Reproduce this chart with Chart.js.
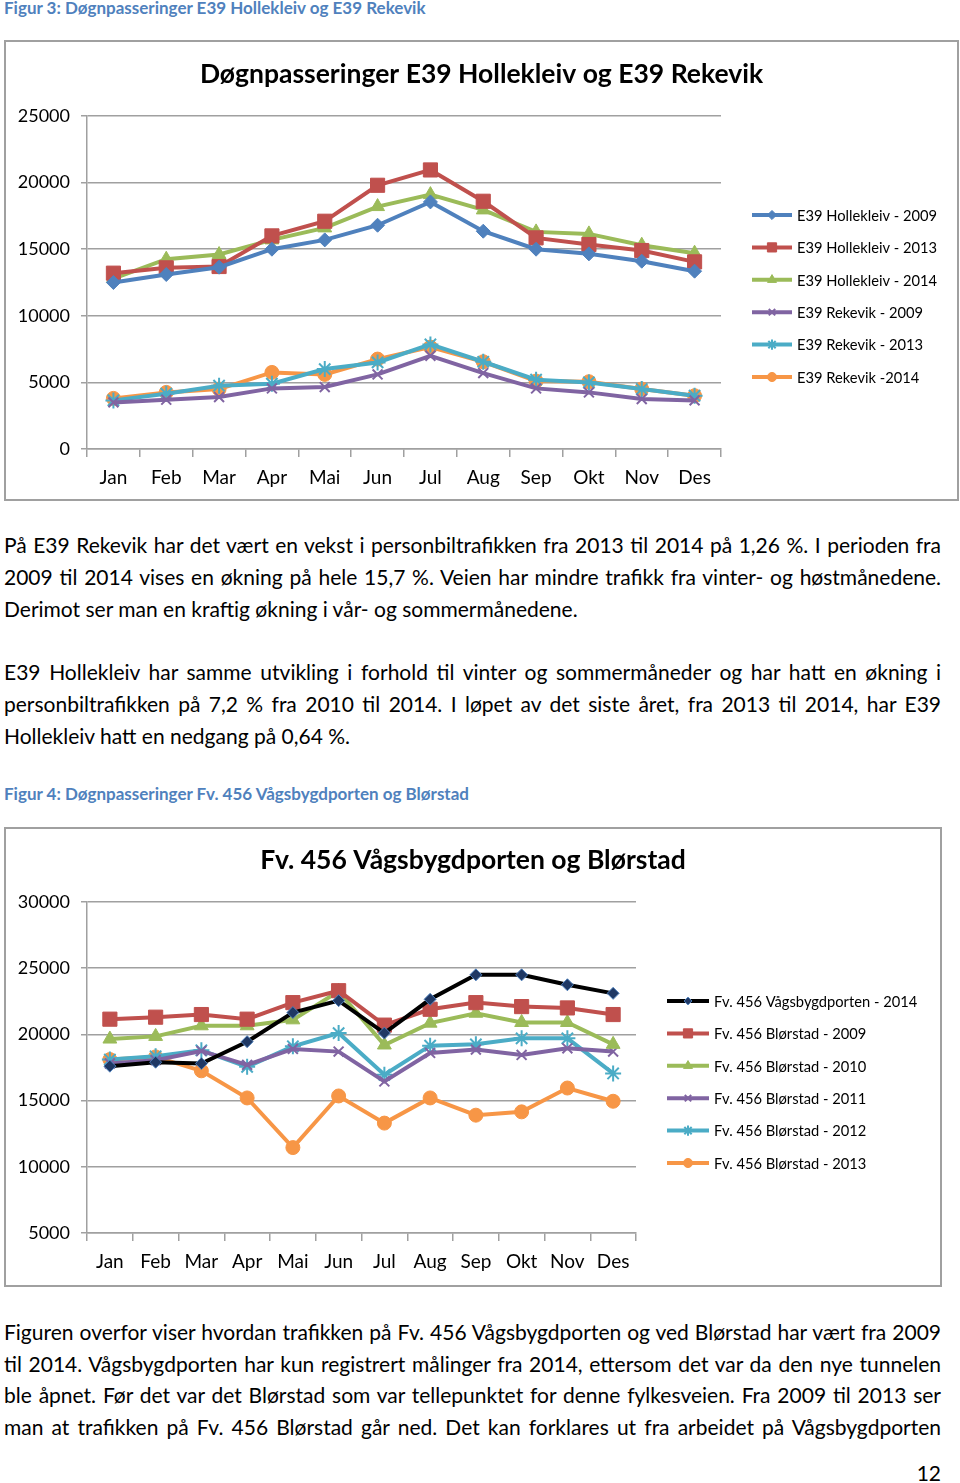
<!DOCTYPE html>
<html>
<head>
<meta charset="utf-8">
<script src="https://cdn.jsdelivr.net/npm/chart.js@4.4.1/dist/chart.umd.min.js"></script>
<style>
  body { margin:0; width:960px; height:1483px; background:#fff; position:relative; overflow:hidden; font-family: Lato, 'Open Sans', sans-serif; color:#000; }
  .cap { position:absolute; left:4px; font-weight:bold; color:#4f81bd; font-size:17px; line-height:20px; white-space:nowrap; }
  .box { position:absolute; border:2px solid #a0a0a0; box-sizing:border-box; background:#fff; }
  .box canvas { position:absolute; left:0; top:0; }
  .line { position:absolute; left:4px; width:937px; font-size:21px; line-height:32px; text-align:justify; text-align-last:justify; white-space:nowrap; }
  .line.end { text-align-last:left; }
  .pg { position:absolute; right:19px; top:1457px; font-size:21px; line-height:32px; }
</style>
</head>
<body>
<div class="cap" style="top:-2px">Figur 3: Døgnpasseringer E39 Hollekleiv og E39 Rekevik</div>
<div class="box" style="left:4px; top:40px; width:955px; height:461px;"><canvas id="chart1" width="951" height="457"></canvas></div>

<div class="line" style="top:529px">På E39 Rekevik har det vært en vekst i personbiltrafikken fra 2013 til 2014 på 1,26 %. I perioden fra</div>
<div class="line" style="top:561px">2009 til 2014 vises en økning på hele 15,7 %. Veien har mindre trafikk fra vinter- og høstmånedene.</div>
<div class="line end" style="top:593px">Derimot ser man en kraftig økning i vår- og sommermånedene.</div>

<div class="line" style="top:656px">E39 Hollekleiv har samme utvikling i forhold til vinter og sommermåneder og har hatt en økning i</div>
<div class="line" style="top:688px">personbiltrafikken på 7,2 % fra 2010 til 2014. I løpet av det siste året, fra 2013 til 2014, har E39</div>
<div class="line end" style="top:720px">Hollekleiv hatt en nedgang på 0,64 %.</div>

<div class="cap" style="top:784px">Figur 4: Døgnpasseringer Fv. 456 Vågsbygdporten og Blørstad</div>
<div class="box" style="left:4px; top:827px; width:938px; height:460px;"><canvas id="chart2" width="934" height="456"></canvas></div>

<div class="line" style="top:1316px">Figuren overfor viser hvordan trafikken på Fv. 456 Vågsbygdporten og ved Blørstad har vært fra 2009</div>
<div class="line" style="top:1348px">til 2014. Vågsbygdporten har kun registrert målinger fra 2014, ettersom det var da den nye tunnelen</div>
<div class="line" style="top:1379px">ble åpnet. Før det var det Blørstad som var tellepunktet for denne fylkesveien. Fra 2009 til 2013 ser</div>
<div class="line" style="top:1411px">man at trafikken på Fv. 456 Blørstad går ned. Det kan forklares ut fra arbeidet på Vågsbygdporten</div>
<div class="pg">12</div>

<script>
// months
const months = ['Jan', 'Feb', 'Mar', 'Apr', 'Mai', 'Jun', 'Jul', 'Aug', 'Sep', 'Okt', 'Nov', 'Des'];

// figur 3
const hollekleiv2009 = [12500, 13100, 13650, 15000, 15700, 16800, 18550, 16350, 15000, 14650, 14100, 13350];
const hollekleiv2013 = [13200, 13600, 13700, 16000, 17100, 19800, 20950, 18600, 15850, 15350, 14900, 14050];
const hollekleiv2014 = [12800, 14250, 14600, 15700, 16600, 18200, 19100, 17950, 16300, 16150, 15300, 14700];
const rekevik2009 = [3500, 3700, 3900, 4550, 4650, 5600, 7000, 5700, 4550, 4250, 3750, 3650];
const rekevik2013 = [3650, 4150, 4750, 4900, 6000, 6500, 7850, 6550, 5200, 5000, 4500, 4000];
const rekevik2014 = [3800, 4250, 4500, 5750, 5600, 6750, 7650, 6550, 5100, 5050, 4500, 4000];

// figur 4
const vagsbygd2014 = [17600, 17900, 17800, 19450, 21650, 22550, 20100, 22650, 24500, 24500, 23750, 23100];
const blorstad2009 = [21150, 21300, 21500, 21150, 22400, 23300, 20700, 21900, 22400, 22100, 22000, 21500];
const blorstad2010 = [19650, 19850, 20650, 20650, 21100, 23250, 19200, 20850, 21600, 20900, 20900, 19250];
const blorstad2011 = [17800, 18050, 18750, 17700, 18900, 18700, 16450, 18600, 18850, 18450, 18950, 18700];
const blorstad2012 = [18100, 18350, 18800, 17550, 19100, 20100, 16950, 19150, 19250, 19700, 19700, 17050];
const blorstad2013 = [18100, 18300, 17250, 15200, 11450, 15350, 13300, 15200, 13900, 14150, 15950, 14950];

const ticks1 = [0, 25000, 5000];
const ticks2 = [5000, 30000, 5000];

const BLUE = '#4f81bd', RED = '#c0504d', GREEN = '#9bbb59', PURPLE = '#8064a2', CYAN = '#4bacc6', ORANGE = '#f79646';
const GRID = '#a0a0a0';
const FONT = 'Lato';

function series(label, data, color, style, radius, bg, border, bw) {
  return {
    label: label,
    data: data,
    borderColor: color,
    backgroundColor: color,
    borderWidth: 4,
    pointStyle: style,
    pointRadius: radius,
    pointHoverRadius: radius,
    pointBackgroundColor: bg || color,
    pointBorderColor: border || color,
    pointBorderWidth: bw || 1,
    tension: 0,
    fill: false
  };
}

const drawPt = (Chart.helpers && Chart.helpers.drawPoint) || function (c, o, x, y) {
  c.beginPath(); c.arc(x, y, o.radius, 0, Math.PI * 2); c.fill();
};

// excel style: title centred on the whole box, legend = line with marker
const sideLegend = {
  id: 'sideLegend',
  afterDraw(chart, args, o) {
    const ctx = chart.ctx;
    ctx.save();
    ctx.fillStyle = '#000';
    ctx.font = 'bold 26.5px ' + FONT;
    ctx.textAlign = 'center';
    ctx.textBaseline = 'middle';
    ctx.fillText(o.title, chart.width / 2, o.titleY);

    chart.data.datasets.forEach((ds, i) => {
      const y = o.top + i * o.gap;
      ctx.strokeStyle = ds.borderColor;
      ctx.lineWidth = 4;
      ctx.beginPath();
      ctx.moveTo(o.left, y);
      ctx.lineTo(o.left + o.len, y);
      ctx.stroke();
      ctx.fillStyle = ds.pointBackgroundColor;
      ctx.strokeStyle = ds.pointBorderColor;
      ctx.lineWidth = ds.pointBorderWidth;
      drawPt(ctx, { pointStyle: ds.pointStyle, radius: ds.pointRadius * 0.65, borderWidth: ds.pointBorderWidth, rotation: 0 }, o.left + o.len / 2, y);
      ctx.fillStyle = '#000';
      ctx.font = o.size + 'px ' + FONT;
      ctx.textBaseline = 'middle';
      ctx.textAlign = 'left';
      ctx.fillText(ds.label, o.left + o.len + 5, y + 1);
    });
    ctx.restore();
  }
};

function makeOptions(range, padTop, padRight, axisH, legend) {
  return {
    responsive: false,
    animation: false,
    layout: { padding: { left: 0, right: padRight, top: padTop, bottom: 0 } },
    plugins: {
      legend: { display: false },
      tooltip: { enabled: false },
      title: { display: false },
      sideLegend: legend
    },
    scales: {
      x: {
        offset: true,
        grid: { display: true, drawOnChartArea: false, offset: true, tickLength: 8, color: GRID, lineWidth: 1.5 },
        border: { display: true, color: GRID, width: 1.5 },
        ticks: { color: '#000', font: { family: FONT, size: 19 }, padding: 9, maxRotation: 0, autoSkip: false },
        afterFit: s => { s.height = axisH; }
      },
      y: {
        min: range[0],
        max: range[1],
        grid: { color: GRID, lineWidth: 1.5, tickLength: 6 },
        border: { display: true, color: GRID, width: 1.5 },
        ticks: { stepSize: range[2], color: '#000', font: { family: FONT, size: 18 }, padding: 11, callback: v => String(v) },
        afterFit: s => { s.width = 81; }
      }
    }
  };
}

new Chart(document.getElementById('chart1'), {
  type: 'line',
  data: {
    labels: months,
    datasets: [
      series('E39 Hollekleiv - 2009', hollekleiv2009, BLUE, 'rectRot', 7),
      series('E39 Hollekleiv - 2013', hollekleiv2013, RED, 'rect', 10),
      series('E39 Hollekleiv - 2014', hollekleiv2014, GREEN, 'triangle', 8),
      series('E39 Rekevik - 2009', rekevik2009, PURPLE, 'crossRot', 7, null, null, 2),
      series('E39 Rekevik - 2013', rekevik2013, CYAN, 'star', 8, null, null, 2),
      series('E39 Rekevik -2014', rekevik2014, ORANGE, 'circle', 7)
    ]
  },
  options: makeOptions(ticks1, 74, 236, 50,
    { title: 'Døgnpasseringer E39 Hollekleiv og E39 Rekevik', titleY: 32,
      left: 746, top: 173, gap: 32.4, len: 40, size: 14.7 }),
  plugins: [sideLegend]
});

new Chart(document.getElementById('chart2'), {
  type: 'line',
  data: {
    labels: months,
    datasets: [
      series('Fv. 456 Vågsbygdporten - 2014', vagsbygd2014, '#000000', 'rectRot', 6, '#1f3864', BLUE, 1),
      series('Fv. 456 Blørstad - 2009', blorstad2009, RED, 'rect', 10),
      series('Fv. 456 Blørstad - 2010', blorstad2010, GREEN, 'triangle', 8),
      series('Fv. 456 Blørstad - 2011', blorstad2011, PURPLE, 'crossRot', 7, null, null, 2),
      series('Fv. 456 Blørstad - 2012', blorstad2012, CYAN, 'star', 8, null, null, 2),
      series('Fv. 456 Blørstad - 2013', blorstad2013, ORANGE, 'circle', 7)
    ]
  },
  options: makeOptions(ticks2, 73, 304, 52,
    { title: 'Fv. 456 Vågsbygdporten og Blørstad', titleY: 31,
      left: 661, top: 172, gap: 32.4, len: 42, size: 14.7 }),
  plugins: [sideLegend]
});
</script>
</body>
</html>
